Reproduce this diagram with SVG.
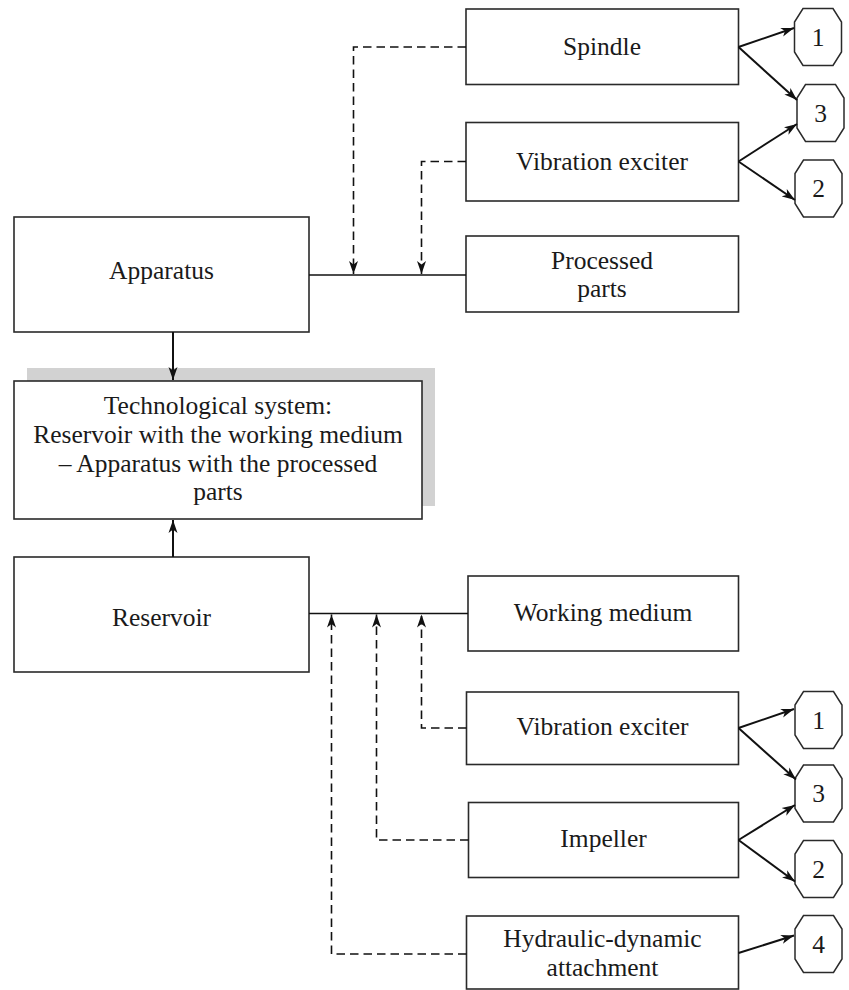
<svg xmlns="http://www.w3.org/2000/svg" width="849" height="990" viewBox="0 0 849 990">
<style>
.box{fill:#fff;stroke:#2a2a2a;stroke-width:1.6}
.oct{fill:#fff;stroke:#2a2a2a;stroke-width:1.5}
.t{font-family:"Liberation Serif","Times New Roman",serif;font-size:25.5px;fill:#1a1a1a;text-anchor:middle}
.solid{fill:none;stroke:#111;stroke-width:2}
.thin{fill:none;stroke:#111;stroke-width:1.6}
.dash{fill:none;stroke:#111;stroke-width:1.6;stroke-dasharray:8.5 5}
</style>
<defs>
<marker id="ah" markerUnits="userSpaceOnUse" markerWidth="14" markerHeight="10" refX="13" refY="5" orient="auto">
<path d="M0,0.5 L13,5 L0,9.5 L3.5,5 Z" fill="#111"/>
</marker>
<polygon id="octshape" points="-15,-28.5 15,-28.5 23.5,-15 23.5,15 15,28.5 -15,28.5 -23.5,15 -23.5,-15"/>
</defs>

<g id="spindle">
<rect class="box" x="466" y="9" width="272.5" height="75.5"/>
<text class="t" x="602" y="54.5">Spindle</text>
</g>
<g id="vibration-exciter-top">
<rect class="box" x="466" y="122.5" width="272.5" height="78.5"/>
<text class="t" x="602" y="169.5">Vibration exciter</text>
</g>
<g id="processed-parts">
<rect class="box" x="466" y="236" width="272.5" height="76"/>
<text class="t" x="602" y="268.5">Processed</text>
<text class="t" x="602" y="297">parts</text>
</g>
<g id="apparatus">
<rect class="box" x="14" y="217" width="295" height="115"/>
<text class="t" x="161.5" y="278.5">Apparatus</text>
</g>
<g id="technological-system">
<rect x="27" y="368" width="408" height="138" fill="#d2d2d2"/>
<rect class="box" x="14" y="381" width="408" height="138"/>
<text class="t" x="218" y="413.5">Technological system:</text>
<text class="t" x="218" y="442.5">Reservoir with the working medium</text>
<text class="t" x="218" y="471.5">– Apparatus with the processed</text>
<text class="t" x="218" y="500">parts</text>
</g>
<g id="reservoir">
<rect class="box" x="14" y="557" width="295" height="115"/>
<text class="t" x="161.5" y="626">Reservoir</text>
</g>
<g id="working-medium">
<rect class="box" x="468" y="576" width="270.5" height="75"/>
<text class="t" x="603" y="621">Working medium</text>
</g>
<g id="vibration-exciter-bottom">
<rect class="box" x="466.5" y="692" width="272" height="72.5"/>
<text class="t" x="602.5" y="735">Vibration exciter</text>
</g>
<g id="impeller">
<rect class="box" x="468.5" y="802.5" width="270" height="75"/>
<text class="t" x="603.5" y="847">Impeller</text>
</g>
<g id="hydraulic-dynamic-attachment">
<rect class="box" x="466.5" y="916" width="272" height="73"/>
<text class="t" x="602.5" y="947">Hydraulic-dynamic</text>
<text class="t" x="602.5" y="976">attachment</text>
</g>

<g id="oct-1-top">
<use href="#octshape" class="oct" x="818" y="37"/>
<text class="t" x="818" y="45.5">1</text>
</g>
<g id="oct-3-top">
<use href="#octshape" class="oct" x="820.5" y="113"/>
<text class="t" x="820.5" y="121.5">3</text>
</g>
<g id="oct-2-top">
<use href="#octshape" class="oct" x="818.5" y="188.5"/>
<text class="t" x="818.5" y="197">2</text>
</g>
<g id="oct-1-bottom">
<use href="#octshape" class="oct" x="818.5" y="720"/>
<text class="t" x="818.5" y="728.5">1</text>
</g>
<g id="oct-3-bottom">
<use href="#octshape" class="oct" x="818.5" y="793.5"/>
<text class="t" x="818.5" y="802">3</text>
</g>
<g id="oct-2-bottom">
<use href="#octshape" class="oct" x="818.5" y="869"/>
<text class="t" x="818.5" y="877.5">2</text>
</g>
<g id="oct-4">
<use href="#octshape" class="oct" x="818.5" y="944"/>
<text class="t" x="818.5" y="952.5">4</text>
</g>

<g id="connectors">
<path class="dash" d="M466,47 H353.5 V274" marker-end="url(#ah)"/>
<path class="dash" d="M466,161.5 H421.5 V274" marker-end="url(#ah)"/>
<path class="thin" d="M309,275 H466"/>
<path class="solid" d="M173,332 V380" marker-end="url(#ah)"/>
<path class="solid" d="M173,557 V520" marker-end="url(#ah)"/>
<path class="thin" d="M309,613.5 H468"/>
<path class="dash" d="M466.5,728 H421.5 V614.5" marker-end="url(#ah)"/>
<path class="dash" d="M468.5,840 H376.5 V614.5" marker-end="url(#ah)"/>
<path class="dash" d="M466.5,954 H331.5 V614.5" marker-end="url(#ah)"/>
<path class="solid" d="M738.5,47 L794,28" marker-end="url(#ah)"/>
<path class="solid" d="M738.5,47 L797,100" marker-end="url(#ah)"/>
<path class="solid" d="M738.5,161.5 L797,124" marker-end="url(#ah)"/>
<path class="solid" d="M738.5,161.5 L795,200" marker-end="url(#ah)"/>
<path class="solid" d="M738.5,728 L794,709" marker-end="url(#ah)"/>
<path class="solid" d="M738.5,728 L796,779.5" marker-end="url(#ah)"/>
<path class="solid" d="M738.5,840 L795,805" marker-end="url(#ah)"/>
<path class="solid" d="M738.5,840 L795,881.5" marker-end="url(#ah)"/>
<path class="solid" d="M738.5,953 L794,935.5" marker-end="url(#ah)"/>
</g>
</svg>
